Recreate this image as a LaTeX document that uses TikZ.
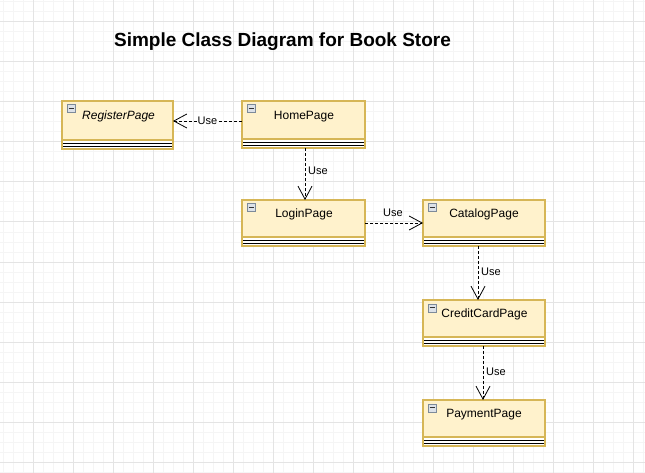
\documentclass[tikz,border=0pt]{standalone}
\usepackage{fontspec}
\setmainfont{Liberation Sans}
\usetikzlibrary{arrows.meta}
\definecolor{gold}{HTML}{D6B656}
\definecolor{yfill}{HTML}{FFF2CC}
\definecolor{gridminor}{HTML}{F5F5F5}
\definecolor{gridmajor}{HTML}{E4E4E4}
\definecolor{iconline}{HTML}{7D8A99}
\definecolor{iconfill}{HTML}{DCE1E8}
\tikzset{
  clsbox/.style={draw=gold, line width=1.5pt, fill=yfill, anchor=north west, inner sep=0pt, outer sep=0pt, minimum height=46pt},
  clsname/.style={font=\fontsize{12}{14}\selectfont, inner sep=0pt},
  iconbox/.style={draw=iconline, fill=iconfill, line width=0.7pt, minimum width=8.5pt, minimum height=8pt, inner sep=0pt, anchor=north west},
  dep/.style={line width=0.8pt, dash pattern=on 3pt off 2pt, -{Straight Barb[length=13pt,width=14pt,line width=0.8pt]}},
  uselbl/.style={font=\fontsize{11}{13}\selectfont, inner sep=1pt}
}
\newcommand{\umlclass}[5]{% name, x, y, width, height
  \node[clsbox, minimum width=#4pt, minimum height=#5pt] (#1) at (#2,#3) {};
  \fill[white] ([yshift=9pt]#1.south west) rectangle (#1.south east);
  \draw[black, line width=0.9pt] ([yshift=5.8pt]#1.south west) -- ([yshift=5.8pt]#1.south east);
  \draw[black, line width=0.9pt] ([yshift=3pt]#1.south west) -- ([yshift=3pt]#1.south east);
  \draw[gold, line width=1.5pt] ([yshift=9pt]#1.south west) -- ([yshift=9pt]#1.south east);
  \draw[gold, line width=1.5pt] (#1.north west) rectangle (#1.south east);
  \node[iconbox] (#1icon) at ([xshift=4.5pt,yshift=-3.5pt]#1.north west) {};
  \draw[black!80, line width=0.9pt] ([xshift=2pt]#1icon.west) -- ([xshift=-2pt]#1icon.east);
}
\begin{document}
\begin{tikzpicture}[x=1pt,y=-1pt]
\useasboundingbox (0,0) rectangle (645,473);
% grid
\foreach \i in {-7,3,...,643} \draw[gridminor, line width=1pt] (\i,0) -- (\i,473);
\foreach \j in {2,12,...,472} \draw[gridminor, line width=1pt] (0,\j) -- (645,\j);
\foreach \i in {-7,33,...,643} \draw[gridmajor, line width=1pt] (\i,0) -- (\i,473);
\foreach \j in {22,62,...,472} \draw[gridmajor, line width=1pt] (0,\j) -- (645,\j);
% title
\node[font=\bfseries\fontsize{19}{22}\selectfont, inner sep=0pt] (title) at (282.5,42) {Simple Class Diagram for Book Store};
% classes
\umlclass{reg}{62}{101}{111}{48}
\umlclass{home}{242}{101}{123}{47}
\umlclass{login}{242}{200}{123}{46}
\umlclass{catalog}{423}{200}{122}{46}
\umlclass{credit}{423}{300}{122}{46}
\umlclass{payment}{423}{400}{122}{46}
\node[clsname, anchor=west, font=\itshape\fontsize{12}{14}\selectfont] (regt) at (82,116.5) {RegisterPage};
\node[clsname] (homet) at (304,116.5) {HomePage};
\node[clsname] (logint) at (304,214.5) {LoginPage};
\node[clsname] (catalogt) at (484,214.5) {CatalogPage};
\node[clsname] (creditt) at (484.5,314.5) {CreditCardPage};
\node[clsname] (paymentt) at (484,414.5) {PaymentPage};
% dependencies
\draw[dep] (home.west |- 0,121) -- node[uselbl, fill=white] (u1) {Use} (reg.east |- 0,121);
\draw[dep] (home.south -| 305,0) -- (login.north -| 305,0);
\node[uselbl, anchor=west] (u2) at (307,171) {Use};
\draw[dep] (login.east |- 0,223) -- (catalog.west |- 0,223);
\node[uselbl] (u3) at (393,213) {Use};
\draw[dep] (catalog.south -| 478,0) -- (credit.north -| 478,0);
\node[uselbl, anchor=west] (u4) at (480,272) {Use};
\draw[dep] (credit.south -| 483,0) -- (payment.north -| 483,0);
\node[uselbl, anchor=west] (u5) at (485,372) {Use};
\end{tikzpicture}
\end{document}
